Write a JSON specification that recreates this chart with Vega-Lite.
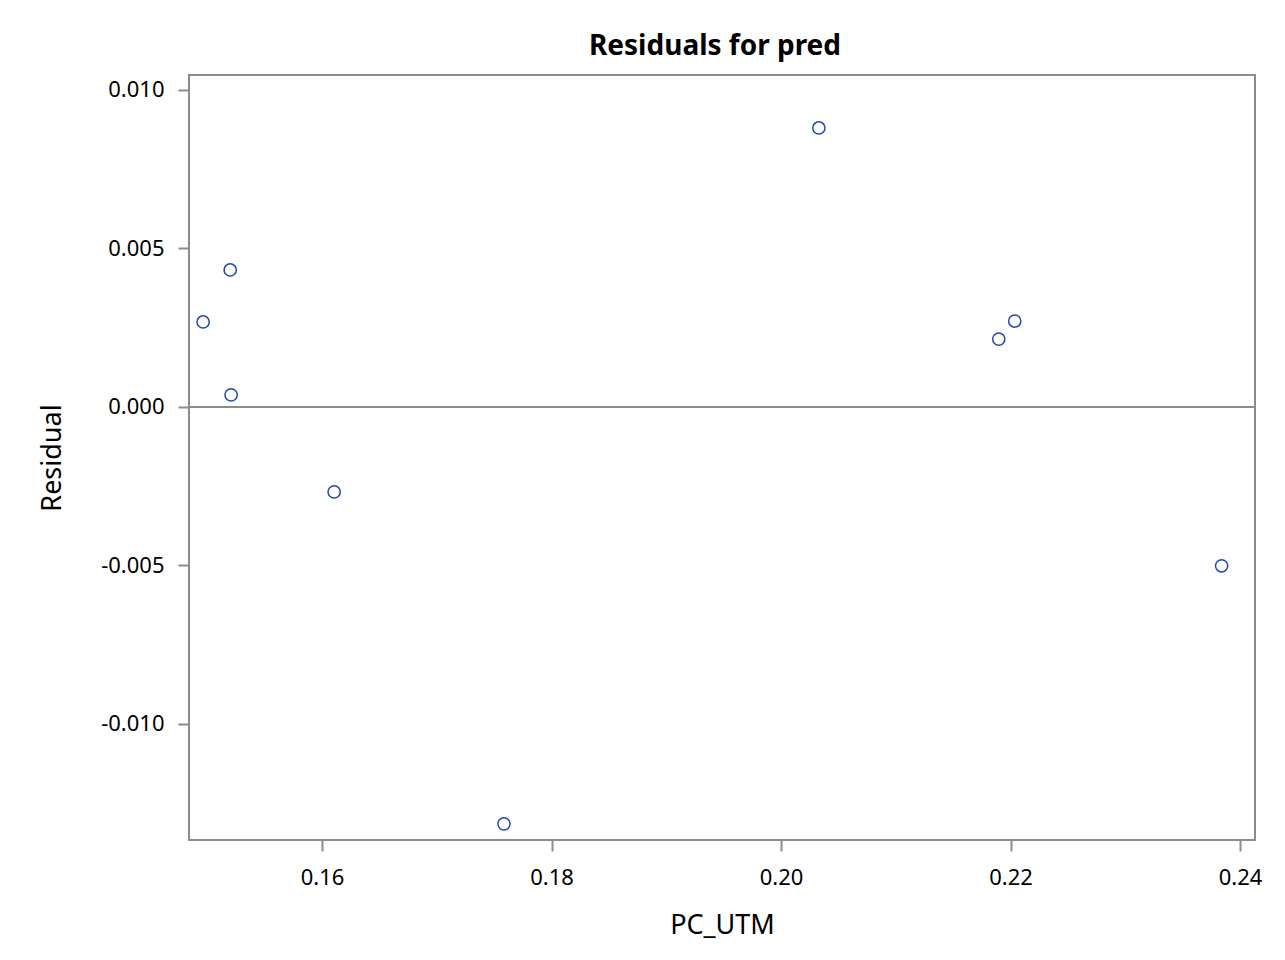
{
  "$schema": "https://vega.github.io/schema/vega-lite/v6.json",
  "autosize": {"type": "none"},
  "width": 1066,
  "height": 765,
  "padding": {"left": 189, "top": 75, "right": 30, "bottom": 120},
  "background": "white",
  "title": {
    "text": "Residuals for pred",
    "font": "Noto Sans",
    "fontSize": 28,
    "fontWeight": "bold",
    "color": "black",
    "offset": 14,
    "dx": -7,
    "anchor": "middle"
  },
  "config": {
    "view": {"stroke": "#8c8c8c", "strokeWidth": 2},
    "axis": {
      "labelFont": "Noto Sans",
      "labelFontSize": 22,
      "labelColor": "black",
      "titleFont": "Noto Sans",
      "titleFontSize": 27,
      "titleFontWeight": "normal",
      "titleColor": "black",
      "grid": false,
      "domain": false,
      "tickColor": "#8c8c8c",
      "tickWidth": 2,
      "tickSize": 11
    }
  },
  "data": {
    "values": [
      {"PC_UTM": 0.14963, "Residual": 0.00268},
      {"PC_UTM": 0.15199, "Residual": 0.00432},
      {"PC_UTM": 0.15207, "Residual": 0.00038},
      {"PC_UTM": 0.16105, "Residual": -0.00268},
      {"PC_UTM": 0.17585, "Residual": -0.01315},
      {"PC_UTM": 0.20329, "Residual": 0.0088},
      {"PC_UTM": 0.21897, "Residual": 0.00214},
      {"PC_UTM": 0.22036, "Residual": 0.00271},
      {"PC_UTM": 0.23839, "Residual": -0.00501}
    ]
  },
  "layer": [
    {
      "mark": {"type": "rule", "color": "#8c8c8c", "strokeWidth": 2},
      "encoding": {"y": {"datum": 0, "type": "quantitative"}}
    },
    {
      "mark": {"type": "point", "shape": "circle", "filled": false, "size": 150, "color": "#2148AE", "strokeWidth": 1.5, "opacity": 1},
      "encoding": {
        "x": {
          "field": "PC_UTM",
          "type": "quantitative",
          "scale": {"domain": [0.1484, 0.2413], "nice": false, "zero": false},
          "axis": {"values": [0.16, 0.18, 0.2, 0.22, 0.24], "format": ".2f", "labelPadding": 16, "title": "PC_UTM", "titlePadding": 24}
        },
        "y": {
          "field": "Residual",
          "type": "quantitative",
          "scale": {"domain": [-0.01366, 0.01047], "nice": false, "zero": false},
          "axis": {
            "values": [-0.01, -0.005, 0, 0.005, 0.01],
            "labelExpr": "replace(format(datum.value, '.3f'), '−', '-')",
            "labelPadding": 14,
            "title": "Residual",
            "titlePadding": 34
          }
        }
      }
    }
  ]
}
